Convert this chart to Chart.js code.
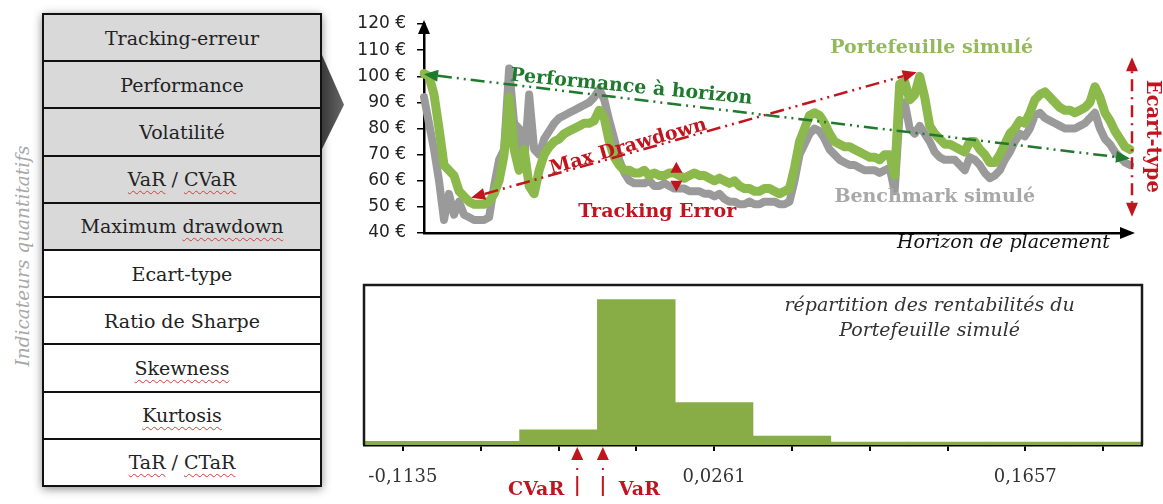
<!DOCTYPE html>
<html lang="fr">
<head>
<meta charset="utf-8">
<title>Indicateurs quantitatifs</title>
<script src="https://cdn.jsdelivr.net/npm/chart.js@4.4.1/dist/chart.umd.min.js"></script>
<style>
  body { margin: 0; background: #fff; }
  #page { position: relative; width: 1163px; height: 504px; overflow: hidden; background: #fff; }
  #panel {
    position: absolute; left: 42px; top: 13px; width: 280px; height: 474px;
    box-sizing: border-box; border: 2px solid #111;
    display: flex; flex-direction: column;
    box-shadow: 0 2px 9px rgba(0, 0, 0, 0.45);
  }
  .row {
    flex: 1; display: flex; align-items: center; justify-content: center;
    border-top: 2px solid #111; font: 19px "DejaVu Serif", serif; color: #222;
  }
  .row:first-child { border-top: none; }
  .row.grey { background: #d9d9d9; }
  .sp { text-decoration: underline wavy #d23c3c; text-decoration-thickness: 1px; text-underline-offset: 4px; }
  #chev {
    position: absolute; left: 322px; top: 55px; width: 22px; height: 94px;
    background: linear-gradient(90deg, #3a3a3a, #676767);
    clip-path: polygon(0 0, 100% 53%, 0 100%);
  }
  #vlabel {
    position: absolute; left: 22px; top: 256px; white-space: nowrap;
    transform: translate(-50%, -50%) rotate(-90deg);
    font: italic 18.5px "DejaVu Serif", serif; color: #a8a8a8;
  }
  canvas { position: absolute; }
</style>
</head>
<body>
<div id="page">
  <div id="vlabel">Indicateurs quantitatifs</div>
  <div id="panel"></div>
  <div id="chev"></div>
  <canvas id="lineChart" width="823" height="255" style="left:340px;top:0"></canvas>
  <canvas id="histChart" width="823" height="234" style="left:340px;top:270px"></canvas>
</div>
<script>
// indicateurs (the first five are shaded)
const indicators = ['Tracking-erreur', 'Performance', 'Volatilité', 'VaR / CVaR', 'Maximum drawdown',
  'Ecart-type', 'Ratio de Sharpe', 'Skewness', 'Kurtosis', 'TaR / CTaR'];
const shaded = 5;

// simulated value paths (€)
const seriesLabels = ['Portefeuille simulé', 'Benchmark simulé'];
const portefeuille = [
  101, 100, 93, 80, 66, 64, 62, 56, 54, 52,
  51, 51, 51, 52, 55, 60, 70, 92, 72, 64,
  72, 58, 55, 64, 70, 73, 75, 76, 78, 79,
  80, 81, 82, 82, 83, 87, 84, 75, 69, 66,
  64, 64, 63, 63, 64, 62, 63, 62, 62, 63,
  63, 62, 61, 62, 63, 62, 62, 61, 60, 61,
  60, 59, 60, 58, 57, 57, 56, 56, 57, 57,
  56, 55, 56, 57, 65, 75, 80, 85, 86, 85,
  82, 78, 75, 74, 73, 73, 72, 71, 70, 69,
  69, 68, 70, 70, 62, 97, 98, 91, 93, 100,
  92, 81, 78, 76, 74, 74, 73, 72, 71, 75,
  75, 72, 70, 67, 67, 70, 74, 78, 80, 83,
  82, 86, 91, 93, 94, 92, 90, 88, 87, 87,
  86, 87, 88, 90, 96, 92, 86, 83, 79, 76,
  73, 72
];
const benchmark = [
  92, 82, 72, 60, 45, 55, 47, 52, 47, 46,
  45, 45, 45, 46, 58, 68, 72, 103, 82, 80,
  66, 93, 72, 70, 76, 79, 82, 84, 85, 86,
  87, 88, 89, 90, 92, 95, 91, 83, 76, 68,
  63, 60, 59, 59, 59, 60, 58, 58, 59, 58,
  57, 57, 57, 56, 56, 56, 55, 55, 54, 55,
  53, 52, 52, 51, 51, 52, 51, 51, 52, 52,
  52, 51, 51, 52, 60, 70, 74, 78, 80, 79,
  76, 72, 70, 68, 67, 66, 66, 65, 64, 64,
  64, 63, 64, 65, 56, 86, 90, 80, 78, 81,
  78, 75, 71, 69, 68, 68, 68, 66, 64, 69,
  68, 66, 63, 61, 62, 64, 68, 71, 75, 78,
  77, 80, 85, 86, 84, 83, 82, 81, 80, 80,
  80, 81, 82, 84, 86, 80, 76, 74, 71, 69,
  67, 66
];
const days = portefeuille.map((_, i) => i);
const yMin = 40, yMax = 120, yStep = 10;

// return distribution of the simulated portfolio
const binReturns = [-0.1135, -0.0786, -0.0437, -0.0088, 0.0261, 0.0610, 0.0959, 0.1308, 0.1657, 0.2006];
const frequencies = [1.6, 1.6, 6.5, 62.7, 18.3, 3.9, 1.3, 1.3, 1.3, 1.3];
const binLabels = binReturns.map(v => v.toFixed(4).replace('.', ','));
const varReturn = -0.0238, cvarReturn = -0.0353;

// annotation anchors, in data units (day, €)
const perfArrow = { from: [0, 100.8], to: [141, 68.5] };
const drawdownArrow = { from: [9.4, 53.5], to: [98.4, 101.5] };
const trackingArrow = { day: 50.4, top: 67.3, bottom: 55.8 };
const ecartArrow = { top: 107.3, bottom: 46.2 };

// ---- table on the left
const panel = document.getElementById('panel');
indicators.forEach((txt, i) => {
  const row = document.createElement('div');
  row.className = 'row' + (i < shaded ? ' grey' : '');
  const inner = document.createElement('span');
  inner.innerHTML = txt.replace(/\b(VaR|CVaR|drawdown|Skewness|Kurtosis|TaR|CTaR)\b/g, '<span class="sp">$1</span>');
  row.appendChild(inner);
  panel.appendChild(row);
});

const serif = '"DejaVu Serif", serif';
const RED = '#c0141e', DKGREEN = '#1f7a2e';

function head(ctx, x, y, ang, color, len = 14, half = 6) {
  ctx.save();
  ctx.translate(x, y);
  ctx.rotate(ang);
  ctx.beginPath();
  ctx.moveTo(0, 0);
  ctx.lineTo(-len, -half);
  ctx.lineTo(-len, half);
  ctx.closePath();
  ctx.fillStyle = color;
  ctx.fill();
  ctx.restore();
}

function dashArrow(ctx, x1, y1, x2, y2, color, dash) {
  const ang = Math.atan2(y2 - y1, x2 - x1);
  const len = 14;
  ctx.save();
  ctx.strokeStyle = color;
  ctx.lineWidth = 2.5;
  ctx.setLineDash(dash);
  ctx.beginPath();
  ctx.moveTo(x1 + Math.cos(ang) * len, y1 + Math.sin(ang) * len);
  ctx.lineTo(x2 - Math.cos(ang) * len, y2 - Math.sin(ang) * len);
  ctx.stroke();
  ctx.restore();
  head(ctx, x2, y2, ang, color);
  head(ctx, x1, y1, ang + Math.PI, color);
}

function text(ctx, str, x, y, font, color, rot = 0, align = 'center') {
  ctx.save();
  ctx.translate(x, y);
  ctx.rotate(rot);
  ctx.font = font;
  ctx.fillStyle = color;
  ctx.textAlign = align;
  ctx.textBaseline = 'middle';
  ctx.fillText(str, 0, 0);
  ctx.restore();
}

const deg = Math.PI / 180;
const boldFont = 'bold 19px ' + serif;

const lineNotes = {
  id: 'lineNotes',
  afterDraw(chart) {
    const { ctx, chartArea: a, scales: { x, y } } = chart;
    const px = v => x.getPixelForValue(v);
    const py = v => y.getPixelForValue(v);

    // axis arrow heads
    head(ctx, a.left, a.top - 4, -Math.PI / 2, '#000', 14, 6);
    head(ctx, a.right + 5, a.bottom, 0, '#000', 15, 6);

    // performance à horizon
    dashArrow(ctx, px(perfArrow.from[0]), py(perfArrow.from[1]), px(perfArrow.to[0]), py(perfArrow.to[1]),
      DKGREEN, [14, 5, 2, 5, 2, 5]);
    text(ctx, 'Performance à horizon', px(41.4), py(95.8), boldFont, DKGREEN, 5.5 * deg);

    // max drawdown
    dashArrow(ctx, px(drawdownArrow.from[0]), py(drawdownArrow.from[1]), px(drawdownArrow.to[0]), py(drawdownArrow.to[1]),
      RED, [14, 5, 2, 5, 2, 5]);
    text(ctx, 'Max Drawdown', px(40.8), py(73), boldFont, RED, -16 * deg);

    // tracking error
    const tx = px(trackingArrow.day);
    head(ctx, tx, py(trackingArrow.top), -Math.PI / 2, RED, 11, 6);
    head(ctx, tx, py(trackingArrow.bottom), Math.PI / 2, RED, 11, 6);
    text(ctx, 'Tracking Error', px(46.6), py(48), boldFont, RED);

    // ecart-type
    const ex = a.right + 2;
    ctx.save();
    ctx.strokeStyle = RED;
    ctx.lineWidth = 2.5;
    ctx.setLineDash([2, 6, 12, 6]);
    ctx.beginPath();
    ctx.moveTo(ex, py(ecartArrow.top) + 14);
    ctx.lineTo(ex, py(ecartArrow.bottom) - 14);
    ctx.stroke();
    ctx.restore();
    head(ctx, ex, py(ecartArrow.top), -Math.PI / 2, RED, 14, 6);
    head(ctx, ex, py(ecartArrow.bottom), Math.PI / 2, RED, 14, 6);
    text(ctx, 'Ecart-type', a.right + 22, py(77), 'bold 19.5px ' + serif, RED, Math.PI / 2);

    // series names
    text(ctx, seriesLabels[0], px(101.4), py(110.8), boldFont, '#93b95a');
    text(ctx, seriesLabels[1], px(102), py(53.8), boldFont, '#a8a8a8');

    // x axis name
    text(ctx, 'Horizon de placement', px(137), py(36.2), 'italic 19px ' + serif, '#111', 0, 'right');
  }
};

new Chart(document.getElementById('lineChart'), {
  type: 'line',
  data: {
    labels: days,
    datasets: [
      { label: seriesLabels[0], data: portefeuille, borderColor: '#8cb94b', borderWidth: 9,
        pointRadius: 0, tension: 0, borderJoinStyle: 'round', borderCapStyle: 'round', order: 0 },
      { label: seriesLabels[1], data: benchmark, borderColor: '#9a9a9a', borderWidth: 8,
        pointRadius: 0, tension: 0, borderJoinStyle: 'round', borderCapStyle: 'round', order: 1 }
    ]
  },
  options: {
    responsive: false,
    animation: false,
    devicePixelRatio: 1,
    layout: { padding: { top: 24, right: 33, bottom: 22, left: 0 } },
    plugins: { legend: { display: false }, tooltip: { enabled: false } },
    scales: {
      x: {
        grid: { display: false },
        ticks: { display: false },
        border: { color: '#000', width: 2.5 },
        afterFit: s => { s.height = 0; }
      },
      y: {
        min: yMin, max: yMax,
        ticks: { stepSize: yStep, callback: v => v + ' €', color: '#222', padding: 11,
          font: { family: 'DejaVu Sans', size: 17 } },
        grid: { drawOnChartArea: false, tickLength: 7, color: '#000', lineWidth: 1.5 },
        border: { color: '#000', width: 2.5 },
        afterFit: s => { s.width = 84; }
      }
    }
  },
  plugins: [lineNotes]
});

const histNotes = {
  id: 'histNotes',
  afterDraw(chart) {
    const { ctx, chartArea: a, scales: { x } } = chart;
    // frame
    ctx.save();
    ctx.strokeStyle = '#1a1a1a';
    ctx.lineWidth = 2.5;
    ctx.beginPath();
    ctx.moveTo(a.left, a.bottom);
    ctx.lineTo(a.left, a.top);
    ctx.lineTo(a.right, a.top);
    ctx.lineTo(a.right, a.bottom);
    ctx.stroke();
    ctx.restore();

    // title
    const cx = a.left + (a.right - a.left) * 0.727;
    text(ctx, 'répartition des rentabilités du', cx, a.top + 21, 'italic 19px ' + serif, '#333');
    text(ctx, 'Portefeuille simulé', cx, a.top + 46, 'italic 19px ' + serif, '#333');

    // VaR / CVaR markers
    const step = binReturns[1] - binReturns[0];
    const toPx = r => x.getPixelForValue((r - binReturns[0]) / step);
    [[cvarReturn, 'CVaR', 'right', -13], [varReturn, 'VaR', 'left', 16]].forEach(([r, name, align, dx]) => {
      const xp = toPx(r);
      head(ctx, xp, a.bottom + 2, -Math.PI / 2, RED, 13, 6);
      ctx.save();
      ctx.strokeStyle = RED;
      ctx.lineWidth = 2;
      ctx.setLineDash([2, 6, 20, 100]);
      ctx.beginPath();
      ctx.moveTo(xp, a.bottom + 23);
      ctx.lineTo(xp, a.bottom + 54);
      ctx.stroke();
      ctx.restore();
      text(ctx, name, xp + dx, a.bottom + 45, 'bold 19px ' + serif, RED, 0, align);
    });
  }
};

new Chart(document.getElementById('histChart'), {
  type: 'bar',
  data: {
    labels: binLabels,
    datasets: [{ data: frequencies, backgroundColor: '#88ad47', borderWidth: 0,
      barPercentage: 1, categoryPercentage: 1 }]
  },
  options: {
    responsive: false,
    animation: false,
    devicePixelRatio: 1,
    layout: { padding: { top: 15, right: 21, bottom: 0, left: 24 } },
    plugins: { legend: { display: false }, tooltip: { enabled: false } },
    scales: {
      x: {
        grid: { offset: false, drawOnChartArea: false, tickLength: 6, color: '#000', lineWidth: 2 },
        border: { color: '#000', width: 2.5 },
        ticks: { autoSkip: false, maxRotation: 0, padding: 16, color: '#333',
          font: { family: 'DejaVu Serif', size: 18 },
          callback: (v, i) => i % 4 === 0 ? binLabels[i] : '' },
        afterFit: s => { s.height = 59; }
      },
      y: { display: false, min: 0, max: 69 }
    }
  },
  plugins: [histNotes]
});
</script>
</body>
</html>
